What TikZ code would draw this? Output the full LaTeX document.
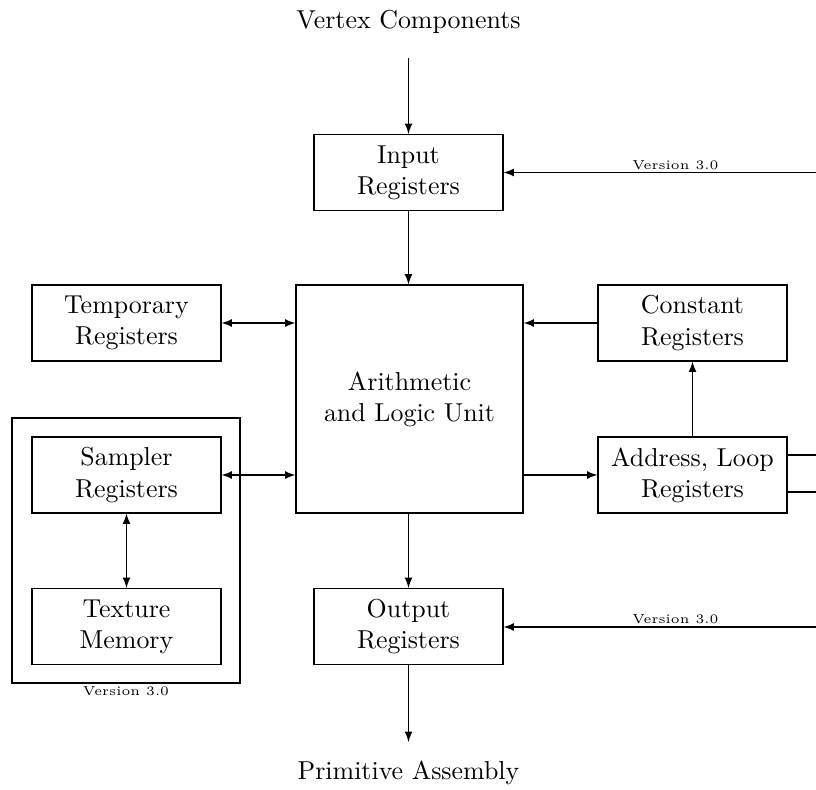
\documentclass[tikz,border=0pt]{standalone}
\usetikzlibrary{arrows}
\begin{document}
\begin{tikzpicture}[x=0.386pt,y=-0.386pt,
  box/.style={draw,align=center,inner sep=0pt,minimum width=189*0.386pt,minimum height=76*0.386pt},
  alu/.style={draw,align=center,inner sep=0pt,minimum width=227*0.386pt,minimum height=228*0.386pt},
  txt/.style={align=center,inner sep=0pt},
  tag/.style={font=\tiny,inner sep=1pt},
  arr/.style={-latex},
  darr/.style={latex-latex}]
\useasboundingbox (0,0) rectangle (816,790);
\node[txt] (vc) at (408.5,22) {Vertex Components};
\node[txt] (pa) at (408.5,773) {Primitive Assembly};
\node[box] (in) at (408.5,172.5) {Input\\Registers};
\node[box] (tmp) at (126.5,323) {Temporary\\Registers};
\node[alu] (alu) at (409.5,399) {Arithmetic\\and Logic Unit};
\node[box] (con) at (692.5,323) {Constant\\Registers};
\node[draw,minimum width=228*0.386pt,minimum height=265*0.386pt,inner sep=0pt] (outer) at (126,550.5) {};
\node[box] (smp) at (126.5,475) {Sampler\\Registers};
\node[box] (tex) at (126.5,626.5) {Texture\\Memory};
\node[box] (adr) at (692.5,475) {Address, Loop\\Registers};
\node[box] (out) at (408.5,626.5) {Output\\Registers};
\node[tag,anchor=north] (v3a) at (outer.south) {Version 3.0};
\coordinate (vtop) at (408.5,58);
\coordinate (pbot) at (408.5,742);
\coordinate (rin) at (816,172.5);
\coordinate (rout) at (816,627);
\coordinate (ra1) at (816,455);
\coordinate (ra2) at (816,492);
\draw[arr] (vtop) -- (in.north);
\draw[arr] (in.south) -- (in.south |- alu.north);
\draw[darr] (tmp.east) -- (tmp.east -| alu.west);
\draw[darr] (smp.east) -- (smp.east -| alu.west);
\draw[darr] (smp) -- (tex);
\draw[arr] (con.west) -- (con.west -| alu.east);
\draw[arr] (adr) -- (con);
\draw[arr] (adr.west -| alu.east) -- (adr.west);
\draw[arr] (out.north |- alu.south) -- (out.north);
\draw[arr] (out.south) -- (pbot);
\draw[arr] (rin) -- node[tag,above,pos=0.45] (v3b) {Version 3.0} (rin -| in.east);
\draw[arr] (rout) -- node[tag,above,pos=0.45] (v3c) {Version 3.0} (rout -| out.east);
\draw (ra1 -| adr.east) -- (ra1);
\draw (ra2 -| adr.east) -- (ra2);
\end{tikzpicture}
\end{document}
